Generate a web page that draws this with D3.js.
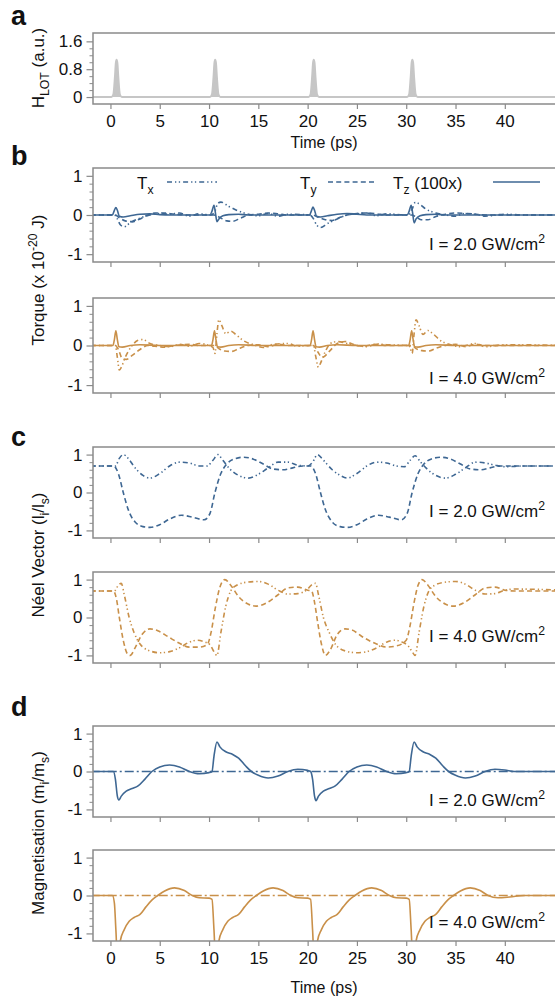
<!DOCTYPE html>
<html>
<head>
<meta charset="utf-8">
<script src="https://cdn.jsdelivr.net/npm/d3@7"></script>
<style>
body{margin:0;background:#fff}
svg{display:block}
text{font-family:"Liberation Sans",Arial,Helvetica,sans-serif;fill:#111}
</style>
</head>
<body>
<svg id="fig" width="555" height="998"></svg>
<script>
// time axis ticks
var timeTicks=[0,5,10,15,20,25,30,35,40];

// a: laser pulse H_LOT [t, a.u.]
var hlot=[[-2,0],[0.1,0],[0.3,0.08],[0.45,0.55],[0.55,0.98],[0.62,1.07],[0.7,0.98],[0.8,0.55],[0.95,0.08],[1.15,0],
  [10.1,0],[10.3,0.08],[10.45,0.55],[10.55,0.98],[10.62,1.07],[10.7,0.98],[10.8,0.55],[10.95,0.08],[11.15,0],
  [20.1,0],[20.3,0.08],[20.45,0.55],[20.55,0.98],[20.62,1.07],[20.7,0.98],[20.8,0.55],[20.95,0.08],[21.15,0],
  [30.1,0],[30.3,0.08],[30.45,0.55],[30.55,0.98],[30.62,1.07],[30.7,0.98],[30.8,0.55],[30.95,0.08],[31.15,0],[46,0]];

// b: torques, I = 2.0 GW/cm2
var tx2=[[-2,0],[0.4,0],[0.7,-0.1],[1,-0.25],[1.4,-0.3],[2,-0.2],[3,-0.08],[4,0],[5,0.04],[6,0.02],[7,0.05],[8,-0.03],[9,0.03],[10.2,0],
  [10.6,0.1],[10.9,0.3],[11.2,0.33],[12,0.22],[13,0.1],[14,0.02],[15,-0.02],[16,0.04],[17,-0.03],[18,0.02],[20.2,0],
  [20.6,-0.1],[20.9,-0.25],[21.3,-0.32],[22,-0.22],[23,-0.1],[24,0],[25,0.03],[26,0.05],[27,-0.02],[28,0.03],[30.2,0],
  [30.6,0.15],[30.9,0.32],[31.2,0.3],[32,0.15],[33,0.05],[34,0],[35,-0.03],[36,0.04],[37,0.02],[38,-0.03],[40,0.02],[42,0],[46,0]];
var ty2=[[-2,0],[0.5,0],[0.8,-0.05],[1.5,-0.15],[2.2,-0.17],[3,-0.1],[3.8,0],[4.5,0.05],[5.5,0.05],[6.5,0.02],[8,0],[10.5,0],
  [11,-0.05],[11.8,-0.15],[12.4,-0.16],[13.2,-0.08],[14,0],[15,0.02],[16,0.05],[17,0.03],[18,0],[20.5,0],
  [21,-0.05],[21.8,-0.12],[22.5,-0.14],[23.3,-0.06],[24,0],[25,0.04],[26,0.05],[27,0.03],[28,0],[30.5,0],
  [31,-0.05],[31.5,-0.12],[32.2,-0.12],[33,-0.04],[34,0.02],[35,0.05],[36,0.04],[37,0.02],[38,0],[46,0]];
var tz2=[[-2,0],[0.2,0],[0.4,0.12],[0.55,0.19],[0.7,0.12],[0.9,-0.03],[1.3,-0.05],[2,-0.02],[3,0.02],[4,0.03],[5,0.01],[6,0],
  [10.1,0],[10.3,0.1],[10.5,0.25],[10.65,0.05],[10.8,-0.17],[11,-0.1],[11.4,-0.02],[12,0.01],[13,0.02],[14,0],
  [20.2,0],[20.4,0.12],[20.55,0.2],[20.7,0.12],[20.9,-0.03],[21.3,-0.05],[22,-0.02],[23,0.02],[24,0.04],[25,0.02],[26,0],
  [30.1,0],[30.3,0.1],[30.5,0.25],[30.65,0.05],[30.8,-0.2],[31,-0.1],[31.4,-0.02],[32,0.01],[33,0.02],[34,0],[46,0]];

// b: torques, I = 4.0 GW/cm2
var tx4=[[-2,0],[0.5,0],[0.7,-0.3],[0.9,-0.62],[1.1,-0.55],[1.5,-0.3],[2.2,0],[2.8,0.13],[3.3,0.15],[4,0.05],[5,0],[6,-0.03],[7,0.03],[8,-0.02],[9,0.05],[10,0],
  [10.4,-0.05],[10.6,-0.2],[10.8,0.3],[11,0.65],[11.3,0.5],[11.7,0.3],[12.2,0.36],[12.7,0.28],[13.5,0.12],[14.5,0.02],[15.5,-0.05],[16.5,0.03],[18,0.05],[19,-0.02],[20.3,0],
  [20.6,0],[20.8,-0.25],[21.1,-0.55],[21.3,-0.45],[21.8,-0.15],[22.3,0.05],[23,0.1],[24,0.05],[25,0],[26,-0.03],[27,0.04],[28,0.02],[30.3,0],
  [30.4,-0.05],[30.6,-0.2],[30.8,0.3],[31,0.65],[31.3,0.5],[31.7,0.28],[32.2,0.38],[32.7,0.3],[33.5,0.12],[34.5,0.02],[35.5,-0.03],[37,0.05],[38,-0.03],[40,0.02],[46,0]];
var ty4=[[-2,0],[0.5,0],[0.8,-0.1],[1.2,-0.33],[1.6,-0.35],[2.2,-0.25],[3,-0.1],[3.8,0],[4.5,-0.02],[5.5,-0.04],[6.5,0],[8,0.03],[9,0],[10.6,0],
  [11,-0.08],[11.6,-0.14],[12.3,-0.15],[13,-0.08],[14,0],[15,0.02],[16,-0.03],[17,0.03],[18,0],[20.6,0],
  [21,-0.15],[21.5,-0.3],[22.2,-0.15],[23,0.05],[23.8,0.1],[24.6,0.03],[25.5,-0.02],[27,0.03],[28,0],[30.6,0],
  [31,-0.08],[31.6,-0.13],[32.3,-0.14],[33,-0.07],[34,0],[35,0.03],[36,-0.03],[37,0.03],[38,0],[46,0]];
var tz4=[[-2,0],[0.25,0],[0.4,0.15],[0.55,0.37],[0.7,0.15],[0.85,-0.03],[1.2,-0.04],[2,0],[3,0.02],[5,0],
  [10.25,0],[10.4,0.15],[10.55,0.37],[10.7,0.15],[10.85,-0.03],[11.2,-0.04],[12,0],[13,0.02],[15,0],
  [20.25,0],[20.4,0.15],[20.55,0.37],[20.7,0.15],[20.85,-0.03],[21.2,-0.04],[22,0],[23,0.02],[25,0],
  [30.25,0],[30.4,0.15],[30.55,0.37],[30.7,0.15],[30.85,-0.03],[31.2,-0.04],[32,0],[33,0.02],[35,0],[46,0]];

// c: Neel vector, I = 2.0 GW/cm2
var ly2=[[-2,0.7],[0.3,0.7],[0.8,0.5],[1.3,0],[1.8,-0.45],[2.5,-0.78],[3.3,-0.9],[4,-0.92],[5,-0.85],[6,-0.7],[7.2,-0.6],[8.3,-0.65],[9.5,-0.72],[10.1,-0.55],
  [10.6,0],[11.2,0.5],[11.8,0.75],[12.5,0.88],[13.5,0.93],[14.5,0.88],[15.5,0.75],[16.5,0.62],[17.5,0.6],[18.5,0.65],[19.5,0.7],[20.3,0.7],
  [20.8,0.5],[21.3,0],[21.8,-0.45],[22.5,-0.78],[23.3,-0.9],[24,-0.92],[25,-0.85],[26,-0.7],[27.2,-0.6],[28.3,-0.65],[29.5,-0.72],[30.1,-0.55],
  [30.6,0],[31.2,0.5],[31.8,0.75],[32.5,0.88],[33.5,0.93],[34.5,0.88],[35.5,0.75],[36.5,0.62],[37.5,0.6],[38.5,0.65],[39.5,0.7],[46,0.7]];
var lx2=[[-2,0.7],[0.5,0.7],[0.9,0.9],[1.3,1],[1.8,0.9],[2.5,0.65],[3.3,0.45],[4,0.38],[5,0.5],[6,0.7],[7,0.8],[8,0.78],[9,0.7],[9.8,0.7],
  [10.4,0.85],[10.9,1],[11.4,0.85],[12,0.65],[13,0.45],[14,0.38],[15,0.48],[16,0.65],[17,0.8],[18,0.8],[19,0.72],[20,0.7],
  [20.5,0.8],[21,1],[21.5,0.88],[22.5,0.6],[23.3,0.45],[24,0.38],[25,0.5],[26,0.7],[27,0.8],[28,0.78],[29,0.7],[29.8,0.68],
  [30.4,0.85],[30.9,0.97],[31.4,0.82],[32,0.65],[33,0.45],[34,0.38],[35,0.48],[36,0.65],[37,0.8],[38,0.78],[39,0.72],[40,0.68],[42,0.7],[46,0.7]];

// c: Neel vector, I = 4.0 GW/cm2
var ly4=[[-2,0.7],[0.3,0.7],[0.6,0.5],[0.9,0],[1.3,-0.6],[1.7,-0.95],[2,-1],[2.5,-0.8],[3.2,-0.45],[4,-0.3],[4.8,-0.35],[5.8,-0.5],[7,-0.68],[8,-0.78],[9,-0.78],[9.8,-0.72],
  [10.2,-0.4],[10.6,0.2],[11.1,0.8],[11.6,1],[12.2,0.85],[13,0.55],[14,0.35],[14.8,0.3],[15.8,0.38],[17,0.6],[18,0.78],[19,0.8],[20,0.72],[20.4,0.7],
  [20.7,0.4],[21,-0.1],[21.4,-0.7],[21.8,-1],[22.3,-0.85],[23,-0.45],[23.8,-0.3],[24.5,-0.33],[25.5,-0.5],[27,-0.7],[28,-0.78],[29,-0.75],[30,-0.6],
  [30.4,-0.2],[30.8,0.4],[31.2,0.85],[31.6,1],[32.2,0.85],[33,0.55],[34,0.35],[34.8,0.3],[35.8,0.38],[37,0.6],[38,0.78],[39,0.8],[40,0.72],[41,0.7],[46,0.7]];
var lx4=[[-2,0.7],[0.4,0.7],[0.8,0.85],[1.1,0.9],[1.4,0.6],[1.9,0],[2.4,-0.4],[3,-0.7],[4,-0.88],[5,-0.93],[6,-0.9],[7,-0.8],[8,-0.65],[8.8,-0.6],[9.6,-0.65],[10.1,-0.72],
  [10.5,-0.9],[10.8,-1],[11.2,-0.4],[11.7,0.3],[12.2,0.7],[12.8,0.85],[13.8,0.93],[15,0.95],[16,0.88],[17,0.72],[18,0.62],[19,0.63],[20,0.75],[20.5,0.88],
  [20.8,0.9],[21.1,0.6],[21.6,0],[22.2,-0.4],[22.8,-0.7],[23.8,-0.88],[25,-0.93],[26,-0.9],[27,-0.8],[28,-0.65],[28.8,-0.6],[29.6,-0.65],[30.2,-0.75],
  [30.6,-0.9],[30.9,-1],[31.3,-0.4],[31.8,0.3],[32.3,0.7],[32.9,0.85],[33.9,0.93],[35,0.95],[36,0.88],[37,0.72],[38,0.62],[39,0.63],[40,0.72],[41,0.75],[46,0.72]];

// d: magnetisation
var mz2=[[-2,0],[0.3,0],[0.5,-0.2],[0.7,-0.65],[0.85,-0.75],[1.1,-0.65],[1.6,-0.52],[2.2,-0.45],[2.8,-0.38],[3.5,-0.2],[4.2,0],[5,0.12],[6,0.17],[7,0.12],[8,0],[9,-0.06],[10,-0.03],
  [10.3,0],[10.5,0.4],[10.8,0.78],[11.1,0.65],[11.7,0.52],[12.4,0.45],[13,0.35],[13.7,0.15],[14.3,0],[15,-0.1],[16,-0.17],[17,-0.12],[18,0],[19,0.06],[20,0.03],
  [20.3,0],[20.5,-0.2],[20.7,-0.65],[20.85,-0.77],[21.1,-0.65],[21.6,-0.52],[22.2,-0.45],[22.8,-0.38],[23.5,-0.2],[24.2,0],[25,0.12],[26,0.17],[27,0.12],[28,0],[29,-0.06],[30,-0.03],
  [30.3,0],[30.5,0.4],[30.8,0.78],[31.1,0.65],[31.7,0.52],[32.4,0.45],[33,0.35],[33.7,0.15],[34.3,0],[35,-0.1],[36,-0.17],[37,-0.12],[38,0],[39,0.06],[40,0.04],[41,0],[46,0]];
var mx2=[[-2,0],[46,0]];
var mz4=[[-2,0],[0.2,0],[0.4,-0.2],[0.55,-0.9],[0.7,-1.6],[0.85,-1.6],[1,-1.2],[1.4,-0.9],[1.9,-0.68],[2.4,-0.58],[3,-0.5],[3.6,-0.3],[4.2,-0.12],[4.8,0],[5.5,0.12],[6.5,0.2],[7.5,0.13],[8.3,0],[9,-0.06],[10,-0.07],
  [10.3,-0.1],[10.5,-0.9],[10.65,-1.6],[10.8,-1.6],[11,-1.2],[11.4,-0.9],[11.9,-0.68],[12.4,-0.58],[13,-0.5],[13.6,-0.3],[14.2,-0.12],[14.8,0],[15.5,0.12],[16.5,0.2],[17.5,0.13],[18.3,0],[19,-0.06],[20,-0.07],
  [20.3,-0.1],[20.5,-0.9],[20.65,-1.6],[20.8,-1.6],[21,-1.2],[21.4,-0.9],[21.9,-0.68],[22.4,-0.58],[23,-0.5],[23.6,-0.3],[24.2,-0.12],[24.8,0],[25.5,0.12],[26.5,0.2],[27.5,0.13],[28.3,0],[29,-0.06],[30,-0.07],
  [30.3,-0.1],[30.5,-0.9],[30.65,-1.6],[30.8,-1.6],[31,-1.2],[31.4,-0.9],[31.9,-0.68],[32.4,-0.58],[33,-0.5],[33.6,-0.3],[34.2,-0.12],[34.8,0],[35.5,0.12],[36.5,0.2],[37.5,0.13],[38.3,0],[39.3,-0.06],[40.5,-0.04],[42,0],[46,0]];
var mx4=[[-2,0],[46,0]];

var blue="#3e6793", orange="#c99049", frame="#8a8a8a";
var dashDotDot="5,3,1.3,2.5,1.3,3", dashed="5,3.2", dashDot="9,3,2,3";

var svg=d3.select("#fig");
var x=d3.scaleLinear().domain([-1.77,45.8]).range([93,562]);
var line=function(y){
  return d3.line().x(function(d){return x(d[0])}).y(function(d){return y(d[1])}).curve(d3.curveMonotoneX);
};

// text with sub/superscripts: parts = [[text, "sub"|"sup"|""], ...]
var rich=function(t,parts,size){
  var shift=0;
  parts.forEach(function(p){
    var want=p[1]=="sub"?size*0.28:(p[1]=="sup"?-size*0.4:0);
    var s=t.append("tspan").text(p[0]).attr("dy",want-shift);
    if(p[1])s.attr("font-size",size*0.72);
    shift=want;
  });
};

var panel=function(cfg){
  var y=d3.scaleLinear().domain(cfg.dom).range([cfg.bottom,cfg.top]);
  var g=svg.append("g");
  var cid="clip"+cfg.name;
  g.append("clipPath").attr("id",cid).append("rect")
    .attr("x",93).attr("y",cfg.top).attr("width",469).attr("height",cfg.bottom-cfg.top);
  // y axis minor + major
  g.append("g").attr("transform","translate(93,0)")
    .call(d3.axisLeft(y).tickValues(cfg.minor).tickSize(3.5).tickFormat(""))
    .call(function(a){a.select(".domain").remove();a.selectAll("line").attr("stroke",frame);a.selectAll("text").remove()});
  var ya=g.append("g").attr("transform","translate(93,0)")
    .call(d3.axisLeft(y).tickValues(cfg.major).tickSize(6.5).tickPadding(4).tickFormat(cfg.fmt||function(d){return String(d)}));
  ya.select(".domain").remove();
  ya.selectAll("line").attr("stroke",frame).attr("stroke-width",1.2);
  ya.selectAll("text").attr("font-size",17).attr("fill","#111")
    .attr("font-family","Liberation Sans, Arial, sans-serif");
  // x ticks
  var xa=g.append("g").attr("transform","translate(0,"+cfg.bottom+")")
    .call(d3.axisBottom(x).tickValues(timeTicks).tickSize(5).tickPadding(6).tickFormat(function(d){return String(d)}));
  xa.select(".domain").remove();
  xa.selectAll("line").attr("stroke",frame).attr("stroke-width",1.2);
  if(cfg.xlabels){
    xa.selectAll("text").attr("font-size",17).attr("fill","#111")
      .attr("font-family","Liberation Sans, Arial, sans-serif");
  }else{
    xa.selectAll("text").remove();
  }
  var plot=g.append("g").attr("clip-path","url(#"+cid+")");
  cfg.series.forEach(function(s){
    if(s.area){
      plot.append("path").datum(s.data).attr("fill","#c6c6c6")
        .attr("d",d3.area().x(function(d){return x(d[0])}).y0(y(0)).y1(function(d){return y(d[1])}).curve(d3.curveMonotoneX));
      plot.append("path").datum(s.data).attr("fill","none").attr("stroke","#c6c6c6").attr("stroke-width",2)
        .attr("d",line(y));
      return;
    }
    plot.append("path").datum(s.data).attr("fill","none").attr("stroke",s.color)
      .attr("stroke-width",1.6).attr("stroke-dasharray",s.dash||null).attr("d",line(y));
  });
  g.append("rect").attr("x",93).attr("y",cfg.top).attr("width",469).attr("height",cfg.bottom-cfg.top)
    .attr("fill","none").attr("stroke",frame).attr("stroke-width",1.5);
  if(cfg.note){
    var t=g.append("text").attr("x",545).attr("y",cfg.noteY).attr("text-anchor","end").attr("font-size",17);
    rich(t,[["I = "+cfg.note+" GW/cm",""],["2","sup"]],17);
  }
  return y;
};

var pm=[-0.8,-0.6,-0.4,-0.2,0.2,0.4,0.6,0.8];
panel({name:"a",top:33,bottom:104,dom:[-0.2,1.84],major:[0,0.8,1.6],minor:[0.2,0.4,0.6,1.0,1.2,1.4],
  fmt:function(d){return d==0?"0":d3.format(".1f")(d)},xlabels:true,series:[{data:hlot,area:true}]});
panel({name:"b1",top:168,bottom:262,dom:[-1.2,1.2],major:[-1,0,1],minor:pm,note:"2.0",noteY:250,
  series:[{data:tx2,color:blue,dash:dashDotDot},{data:ty2,color:blue,dash:dashed},{data:tz2,color:blue}]});
panel({name:"b2",top:298,bottom:393,dom:[-1.2,1.2],major:[-1,0,1],minor:pm,note:"4.0",noteY:384,
  series:[{data:tx4,color:orange,dash:dashDotDot},{data:ty4,color:orange,dash:dashed},{data:tz4,color:orange}]});
panel({name:"c1",top:447,bottom:538,dom:[-1.2,1.2],major:[-1,0,1],minor:pm,note:"2.0",noteY:517,
  series:[{data:lx2,color:blue,dash:dashDotDot},{data:ly2,color:blue,dash:dashed}]});
panel({name:"c2",top:572,bottom:663,dom:[-1.2,1.2],major:[-1,0,1],minor:pm,note:"4.0",noteY:642,
  series:[{data:lx4,color:orange,dash:dashDotDot},{data:ly4,color:orange,dash:dashed}]});
panel({name:"d1",top:726,bottom:817,dom:[-1.2,1.2],major:[-1,0,1],minor:pm,note:"2.0",noteY:806,
  series:[{data:mx2,color:blue,dash:dashDot},{data:mz2,color:blue}]});
panel({name:"d2",top:850,bottom:941,dom:[-1.2,1.2],major:[-1,0,1],minor:pm,note:"4.0",noteY:928,xlabels:true,
  series:[{data:mx4,color:orange,dash:dashDot},{data:mz4,color:orange}]});

// legend in b
var legend=[{lab:"x",x:137,x1:167,x2:217,dash:dashDotDot,extra:""},
  {lab:"y",x:300,x1:328,x2:377,dash:dashed,extra:""},
  {lab:"z",x:393,x2:540,x1:493,dash:null,extra:" (100x)"}];
legend.forEach(function(l){
  var t=svg.append("text").attr("x",l.x).attr("y",189).attr("font-size",17);
  rich(t,[["T",""],[l.lab,"sub"],[l.extra,""]],17);
  svg.append("line").attr("x1",l.x1).attr("x2",l.x2).attr("y1",182).attr("y2",182)
    .attr("stroke",blue).attr("stroke-width",1.6).attr("stroke-dasharray",l.dash);
});

// panel letters
[["a",25],["b",165],["c",446],["d",716]].forEach(function(p){
  svg.append("text").attr("x",11).attr("y",p[1]).attr("font-size",27).attr("font-weight","bold").text(p[0]);
});

// axis titles
svg.append("text").attr("x",324).attr("y",148).attr("text-anchor","middle").attr("font-size",16).text("Time (ps)");
svg.append("text").attr("x",324).attr("y",993).attr("text-anchor","middle").attr("font-size",16).text("Time (ps)");
var ylab=function(cy,parts){
  var t=svg.append("text").attr("transform","translate(44,"+cy+") rotate(-90)")
    .attr("text-anchor","middle").attr("font-size",17);
  rich(t,parts,17);
};
ylab(68,[["H",""],["LOT","sub"],[" (a.u.)",""]]);
ylab(280,[["Torque (x 10",""],["-20","sup"],[" J)",""]]);
ylab(555,[["Néel Vector (l",""],["i","sub"],["/l",""],["s","sub"],[")",""]]);
ylab(833,[["Magnetisation (m",""],["i","sub"],["/m",""],["s","sub"],[")",""]]);
</script>
</body>
</html>
